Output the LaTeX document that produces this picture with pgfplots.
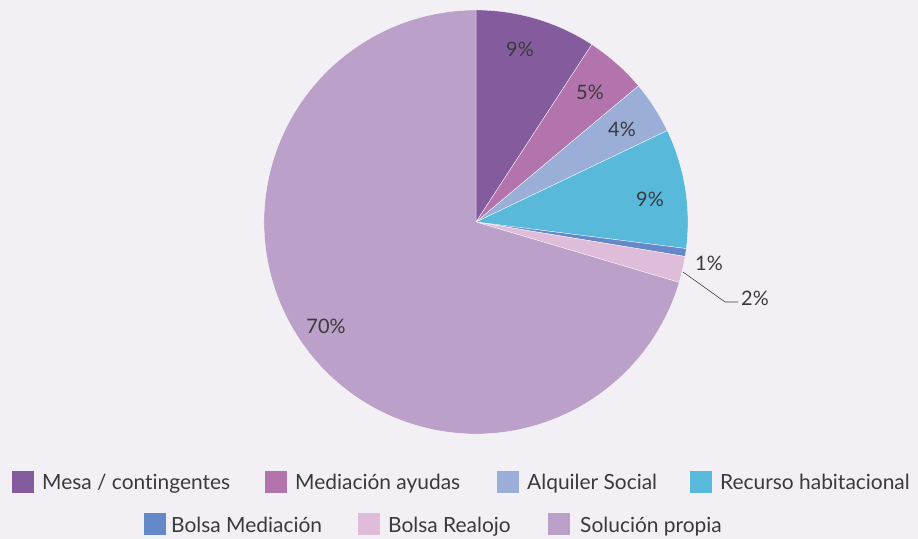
\documentclass[border=0pt]{standalone}
\usepackage{pgfplots}
\usepackage{pgfplotstable}
\pgfplotsset{compat=1.18}
\usepackage{fontspec}
\setmainfont{Lato}[Ligatures=NoCommon]

\definecolor{bg}{HTML}{F2F0F5}
\definecolor{txt}{HTML}{3A3A3A}
\definecolor{cMesa}{HTML}{845C9E}
\definecolor{cMed}{HTML}{B374AE}
\definecolor{cAlq}{HTML}{9AAED8}
\definecolor{cRec}{HTML}{58B9DB}
\definecolor{cBolsa}{HTML}{6488C8}
\definecolor{cReal}{HTML}{DFBDDA}
\definecolor{cSol}{HTML}{BBA1C9}

% share of each slice, clockwise from 12 o'clock
\pgfplotstableread{
value col
9.2  cMesa
4.7  cMed
4.0  cAlq
9.1  cRec
0.6  cBolsa
2.0  cReal
70.4 cSol
}\piedata

\begin{document}
\begin{tikzpicture}
\begin{axis}[
  hide axis, scale only axis, clip=false,
  width=918bp, height=539bp,
  xmin=0, xmax=918, ymin=-539, ymax=0,
]
\fill[bg] (axis cs:0,0) rectangle (axis cs:918,-539);
\pgfplotstablegetrowsof{\piedata}
\pgfmathtruncatemacro\N{\pgfplotsretval-1}
\def\angstart{90}
\pgfplotsforeachungrouped \i in {0,...,\N}{
  \pgfplotstablegetelem{\i}{value}\of\piedata \let\val\pgfplotsretval
  \pgfplotstablegetelem{\i}{col}\of\piedata \let\col\pgfplotsretval
  \pgfmathsetmacro\angend{\angstart-3.6*\val}
  \edef\temp{\noexpand\fill[\col, draw=white, line width=0.3bp] (axis cs:476,-222) -- ++(\angstart:212bp)
    arc[start angle=\angstart, end angle=\angend, radius=212bp] -- cycle;}
  \temp
  \let\angstart\angend
}
% slice labels
\begin{scope}[every node/.style={text=txt, font=\fontsize{20}{24}\selectfont, inner sep=0pt}]
\node at (axis cs:520,-49) {9\%};
\node at (axis cs:590,-92) {5\%};
\node at (axis cs:622,-129) {4\%};
\node at (axis cs:650,-199) {9\%};
\node at (axis cs:709,-263) {1\%};
\node[anchor=west] at (axis cs:741,-298) {2\%};
\node at (axis cs:326,-326) {70\%};
\end{scope}
\draw[txt, line width=0.6bp] (axis cs:683,-272) -- (axis cs:725,-302) -- (axis cs:738,-302);
% legend
\begin{scope}[every node/.style={text=txt, font=\fontsize{21}{25}\selectfont, inner sep=0pt, anchor=base west}]
\fill[cMesa] (axis cs:12,-471) rectangle (axis cs:34,-493);
\node at (axis cs:42,-490) {Mesa / contingentes};
\fill[cMed] (axis cs:265,-471) rectangle (axis cs:287,-493);
\node at (axis cs:295,-490) {Mediación ayudas};
\fill[cAlq] (axis cs:497,-471) rectangle (axis cs:519,-493);
\node at (axis cs:527,-490) {Alquiler Social};
\fill[cRec] (axis cs:690,-471) rectangle (axis cs:712,-493);
\node at (axis cs:720,-490) {Recurso habitacional};
\fill[cBolsa] (axis cs:144,-513) rectangle (axis cs:166,-535);
\node at (axis cs:171,-532) {Bolsa Mediación};
\fill[cReal] (axis cs:358,-513) rectangle (axis cs:380,-535);
\node at (axis cs:388,-532) {Bolsa Realojo};
\fill[cSol] (axis cs:548,-513) rectangle (axis cs:570,-535);
\node at (axis cs:580,-532) {Solución propia};
\end{scope}
\end{axis}
\end{tikzpicture}
\end{document}
